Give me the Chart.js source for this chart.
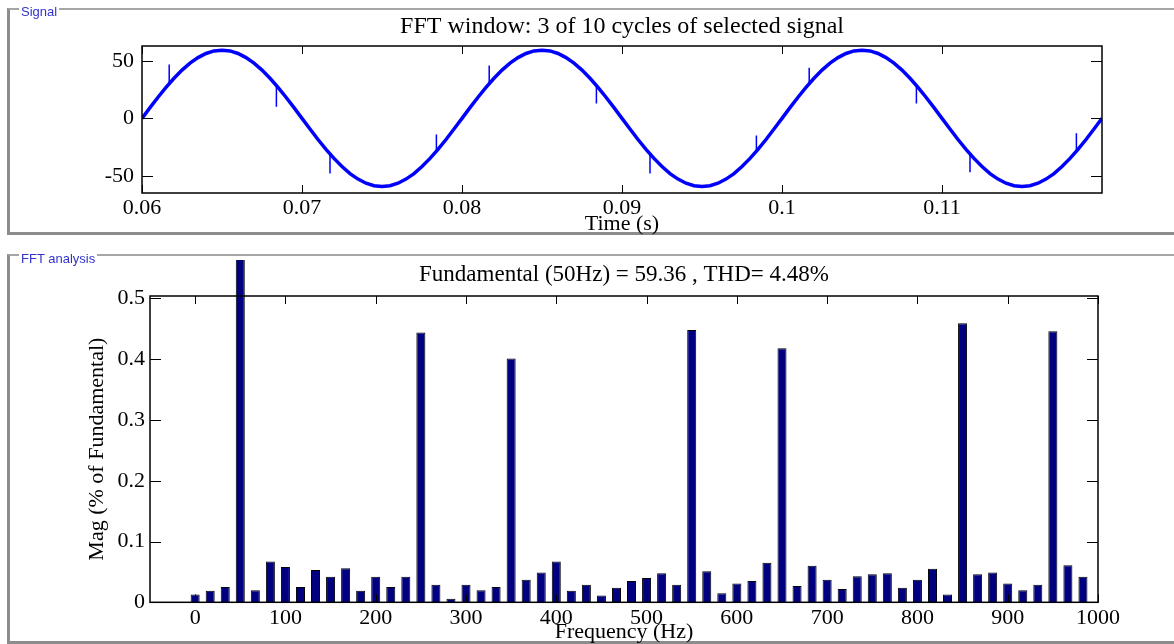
<!DOCTYPE html>
<html>
<head>
<meta charset="utf-8">
<script src="https://cdn.jsdelivr.net/npm/chart.js@4.4.0/dist/chart.umd.min.js"></script>
<style>
  body { margin: 0; background: #fff; width: 1174px; height: 644px; overflow: hidden; position: relative; }
  .panel { position: absolute; left: 7px; width: 1200px; box-sizing: border-box;
           border-top: 2px solid #a6a6a6; border-left: 3px solid #8c8c8c; border-bottom: 3px solid #8c8c8c; }
  .tag { position: absolute; left: 19px; font: 13px "Liberation Sans", Arial, sans-serif; color: #3333cc;
         background: #fff; padding: 0 2px; line-height: 13px; }
  canvas { position: absolute; left: 0; }
</style>
</head>
<body>
<div class="panel" style="top:8px;height:227px"></div>
<div class="panel" style="top:254px;height:390px"></div>
<canvas id="signal-chart" width="1174" height="240" style="top:0"></canvas>
<canvas id="fft-chart" width="1174" height="384" style="top:260px"></canvas>
<div class="tag" style="top:5px">Signal</div>
<div class="tag" style="top:252px">FFT analysis</div>
<script>
// Signal panel: samples every 0.5 ms (time in ms)
const sigTimeMs = [
  60, 60.5, 61, 61.5, 62, 62.5, 63, 63.5, 64, 64.5, 65, 65.5, 66, 66.5, 67, 67.5, 68, 68.5, 69, 69.5,
  70, 70.5, 71, 71.5, 72, 72.5, 73, 73.5, 74, 74.5, 75, 75.5, 76, 76.5, 77, 77.5, 78, 78.5, 79, 79.5,
  80, 80.5, 81, 81.5, 82, 82.5, 83, 83.5, 84, 84.5, 85, 85.5, 86, 86.5, 87, 87.5, 88, 88.5, 89, 89.5,
  90, 90.5, 91, 91.5, 92, 92.5, 93, 93.5, 94, 94.5, 95, 95.5, 96, 96.5, 97, 97.5, 98, 98.5, 99, 99.5,
  100, 100.5, 101, 101.5, 102, 102.5, 103, 103.5, 104, 104.5, 105, 105.5, 106, 106.5, 107, 107.5, 108, 108.5, 109, 109.5,
  110, 110.5, 111, 111.5, 112, 112.5, 113, 113.5, 114, 114.5, 115, 115.5, 116, 116.5, 117, 117.5, 118, 118.5, 119, 119.5,
  120
];
const sigValues = [
  0, 9.3, 18.4, 27.0, 34.9, 42.0, 48.1, 52.9, 56.5, 58.7, 59.4, 58.7, 56.5, 52.9, 48.1, 42.0, 34.9, 27.0, 18.4, 9.3,
  0, -9.3, -18.4, -27.0, -34.9, -42.0, -48.1, -52.9, -56.5, -58.7, -59.4, -58.7, -56.5, -52.9, -48.1, -42.0, -34.9, -27.0, -18.4, -9.3,
  0, 9.3, 18.4, 27.0, 34.9, 42.0, 48.1, 52.9, 56.5, 58.7, 59.4, 58.7, 56.5, 52.9, 48.1, 42.0, 34.9, 27.0, 18.4, 9.3,
  0, -9.3, -18.4, -27.0, -34.9, -42.0, -48.1, -52.9, -56.5, -58.7, -59.4, -58.7, -56.5, -52.9, -48.1, -42.0, -34.9, -27.0, -18.4, -9.3,
  0, 9.3, 18.4, 27.0, 34.9, 42.0, 48.1, 52.9, 56.5, 58.7, 59.4, 58.7, 56.5, 52.9, 48.1, 42.0, 34.9, 27.0, 18.4, 9.3,
  0, -9.3, -18.4, -27.0, -34.9, -42.0, -48.1, -52.9, -56.5, -58.7, -59.4, -58.7, -56.5, -52.9, -48.1, -42.0, -34.9, -27.0, -18.4, -9.3,
  0
];
// switching spikes riding on the wave
const spikeTimeMs = [61.7, 68.4, 71.75, 78.4, 81.7, 88.4, 91.75, 98.4, 101.7, 108.4, 111.75, 118.4];
const spikeBase = [30, 30, -30, -30, 30, 30, -30, -30, 30, 30, -30, -30];
const spikeTip = [47, 10, -48, -14, 46, 13, -48, -15, 44, 13, -47, -13];
const timeTicks = [0.06, 0.07, 0.08, 0.09, 0.1, 0.11];
const signalTicks = [-50, 0, 50];

// FFT panel: harmonic bins (Hz) and magnitude (% of fundamental)
const freqHz = [
  0, 16.67, 33.33, 50, 66.67, 83.33, 100, 116.67, 133.33, 150,
  166.67, 183.33, 200, 216.67, 233.33, 250, 266.67, 283.33, 300, 316.67,
  333.33, 350, 366.67, 383.33, 400, 416.67, 433.33, 450, 466.67, 483.33,
  500, 516.67, 533.33, 550, 566.67, 583.33, 600, 616.67, 633.33, 650,
  666.67, 683.33, 700, 716.67, 733.33, 750, 766.67, 783.33, 800, 816.67,
  833.33, 850, 866.67, 883.33, 900, 916.67, 933.33, 950, 966.67, 983.33
];
const magPct = [
  0.013, 0.019, 0.025, 100, 0.020, 0.067, 0.058, 0.025, 0.053, 0.042,
  0.056, 0.019, 0.042, 0.025, 0.042, 0.444, 0.029, 0.006, 0.029, 0.020,
  0.025, 0.401, 0.037, 0.049, 0.067, 0.019, 0.029, 0.011, 0.024, 0.035,
  0.040, 0.048, 0.029, 0.448, 0.051, 0.015, 0.031, 0.035, 0.065, 0.418,
  0.027, 0.060, 0.037, 0.022, 0.043, 0.046, 0.048, 0.024, 0.037, 0.055,
  0.013, 0.459, 0.046, 0.049, 0.031, 0.020, 0.029, 0.446, 0.061, 0.042
];
const freqTicks = [0, 100, 200, 300, 400, 500, 600, 700, 800, 900, 1000];
const magTicks = [0, 0.1, 0.2, 0.3, 0.4, 0.5];

const serif = "'Liberation Serif', 'Times New Roman', serif";
Chart.defaults.font.family = serif;
Chart.defaults.color = '#000';

// box around the plot with MATLAB style inward ticks
const axesBox = {
  id: 'axesBox',
  afterDatasetsDraw(chart) {
    const { ctx, chartArea: a, scales: { x, y } } = chart;
    ctx.save();
    ctx.strokeStyle = '#000';
    ctx.lineWidth = 1;
    ctx.beginPath();
    x.ticks.forEach(t => {
      const px = Math.round(x.getPixelForValue(t.value)) + 0.5;
      ctx.moveTo(px, a.bottom); ctx.lineTo(px, a.bottom - 8);
      ctx.moveTo(px, a.top); ctx.lineTo(px, a.top + 8);
    });
    y.ticks.forEach(t => {
      const py = Math.round(y.getPixelForValue(t.value)) + 0.5;
      ctx.moveTo(a.left, py); ctx.lineTo(a.left + 11, py);
      ctx.moveTo(a.right, py); ctx.lineTo(a.right - 11, py);
    });
    ctx.stroke();
    ctx.lineWidth = 1.5;
    ctx.strokeRect(a.left, a.top, a.width, a.height);
    ctx.restore();
  }
};

// Signal chart
const sigPoints = sigTimeMs.map((t, i) => ({ x: t / 1000, y: sigValues[i] }));
const spikePoints = [];
spikeTimeMs.forEach((t, i) => {
  spikePoints.push({ x: t / 1000, y: spikeBase[i] });
  spikePoints.push({ x: t / 1000, y: spikeTip[i] });
  spikePoints.push({ x: t / 1000, y: null });
});

new Chart(document.getElementById('signal-chart').getContext('2d'), {
  type: 'line',
  data: {
    datasets: [
      { data: sigPoints, borderColor: '#0000ff', borderWidth: 3.5, pointRadius: 0, tension: 0 },
      { data: spikePoints, borderColor: '#0000ff', borderWidth: 1.5, pointRadius: 0, spanGaps: false }
    ]
  },
  options: {
    responsive: false,
    animation: false,
    layout: { padding: { left: 0, right: 72, top: 0, bottom: 0 } },
    plugins: {
      legend: { display: false },
      tooltip: { enabled: false },
      title: {
        display: true, fullSize: false,
        text: 'FFT window: 3 of 10 cycles of selected signal',
        font: { size: 24, weight: 'normal', lineHeight: 1.2 },
        padding: { top: 12.6, bottom: 4.6 }
      }
    },
    scales: {
      x: {
        type: 'linear', min: 0.06, max: 0.12,
        afterBuildTicks: s => { s.ticks = timeTicks.map(v => ({ value: v })); },
        afterFit: s => { s.height = 47; },
        grid: { display: false, drawTicks: false },
        border: { display: false },
        ticks: { font: { size: 22 }, padding: 2, maxRotation: 0, autoSkip: false, callback: v => String(v) },
        title: { display: true, text: 'Time (s)', font: { size: 22, lineHeight: 1 }, padding: { top: 0, bottom: 5 } }
      },
      y: {
        min: -65, max: 63,
        afterBuildTicks: s => { s.ticks = signalTicks.map(v => ({ value: v })); },
        afterFit: s => { s.width = 142; },
        grid: { display: false, drawTicks: false },
        border: { display: false },
        ticks: { font: { size: 22 }, padding: 8, callback: v => String(v) }
      }
    }
  },
  plugins: [axesBox]
});

// FFT chart
const fftPoints = freqHz.map((f, i) => ({ x: f, y: magPct[i] }));

new Chart(document.getElementById('fft-chart').getContext('2d'), {
  type: 'bar',
  data: {
    datasets: [{
      data: fftPoints,
      backgroundColor: '#000080',
      borderColor: '#000000',
      borderWidth: 1,
      barPercentage: 0.6,
      categoryPercentage: 1,
      clip: false
    }]
  },
  options: {
    responsive: false,
    animation: false,
    layout: { padding: { left: 0, right: 76, top: 0, bottom: 0 } },
    plugins: {
      legend: { display: false },
      tooltip: { enabled: false },
      title: {
        display: true, fullSize: false,
        text: 'Fundamental (50Hz) = 59.36 , THD= 4.48%',
        font: { size: 23, weight: 'normal', lineHeight: 1.2 },
        padding: { top: 1, bottom: 7.4 }
      }
    },
    scales: {
      x: {
        type: 'linear', min: -50, max: 1000, offset: false,
        afterBuildTicks: s => { s.ticks = freqTicks.map(v => ({ value: v })); },
        afterFit: s => { s.height = 41.7; },
        grid: { display: false, drawTicks: false },
        border: { display: false },
        ticks: { font: { size: 22 }, padding: 3, maxRotation: 0, autoSkip: false, callback: v => String(v) },
        title: { display: true, text: 'Frequency (Hz)', font: { size: 22, lineHeight: 1 }, padding: { top: 0, bottom: 1 } }
      },
      y: {
        min: 0, max: 0.504,
        afterBuildTicks: s => { s.ticks = magTicks.map(v => ({ value: v })); },
        afterFit: s => { s.width = 150; },
        grid: { display: false, drawTicks: false },
        border: { display: false },
        ticks: { font: { size: 22 }, padding: 5, callback: v => String(v) },
        title: { display: true, text: 'Mag (% of Fundamental)', font: { size: 22, lineHeight: 1 }, padding: { top: 86, bottom: 0 } }
      }
    }
  },
  plugins: [axesBox]
});
</script>
</body>
</html>
